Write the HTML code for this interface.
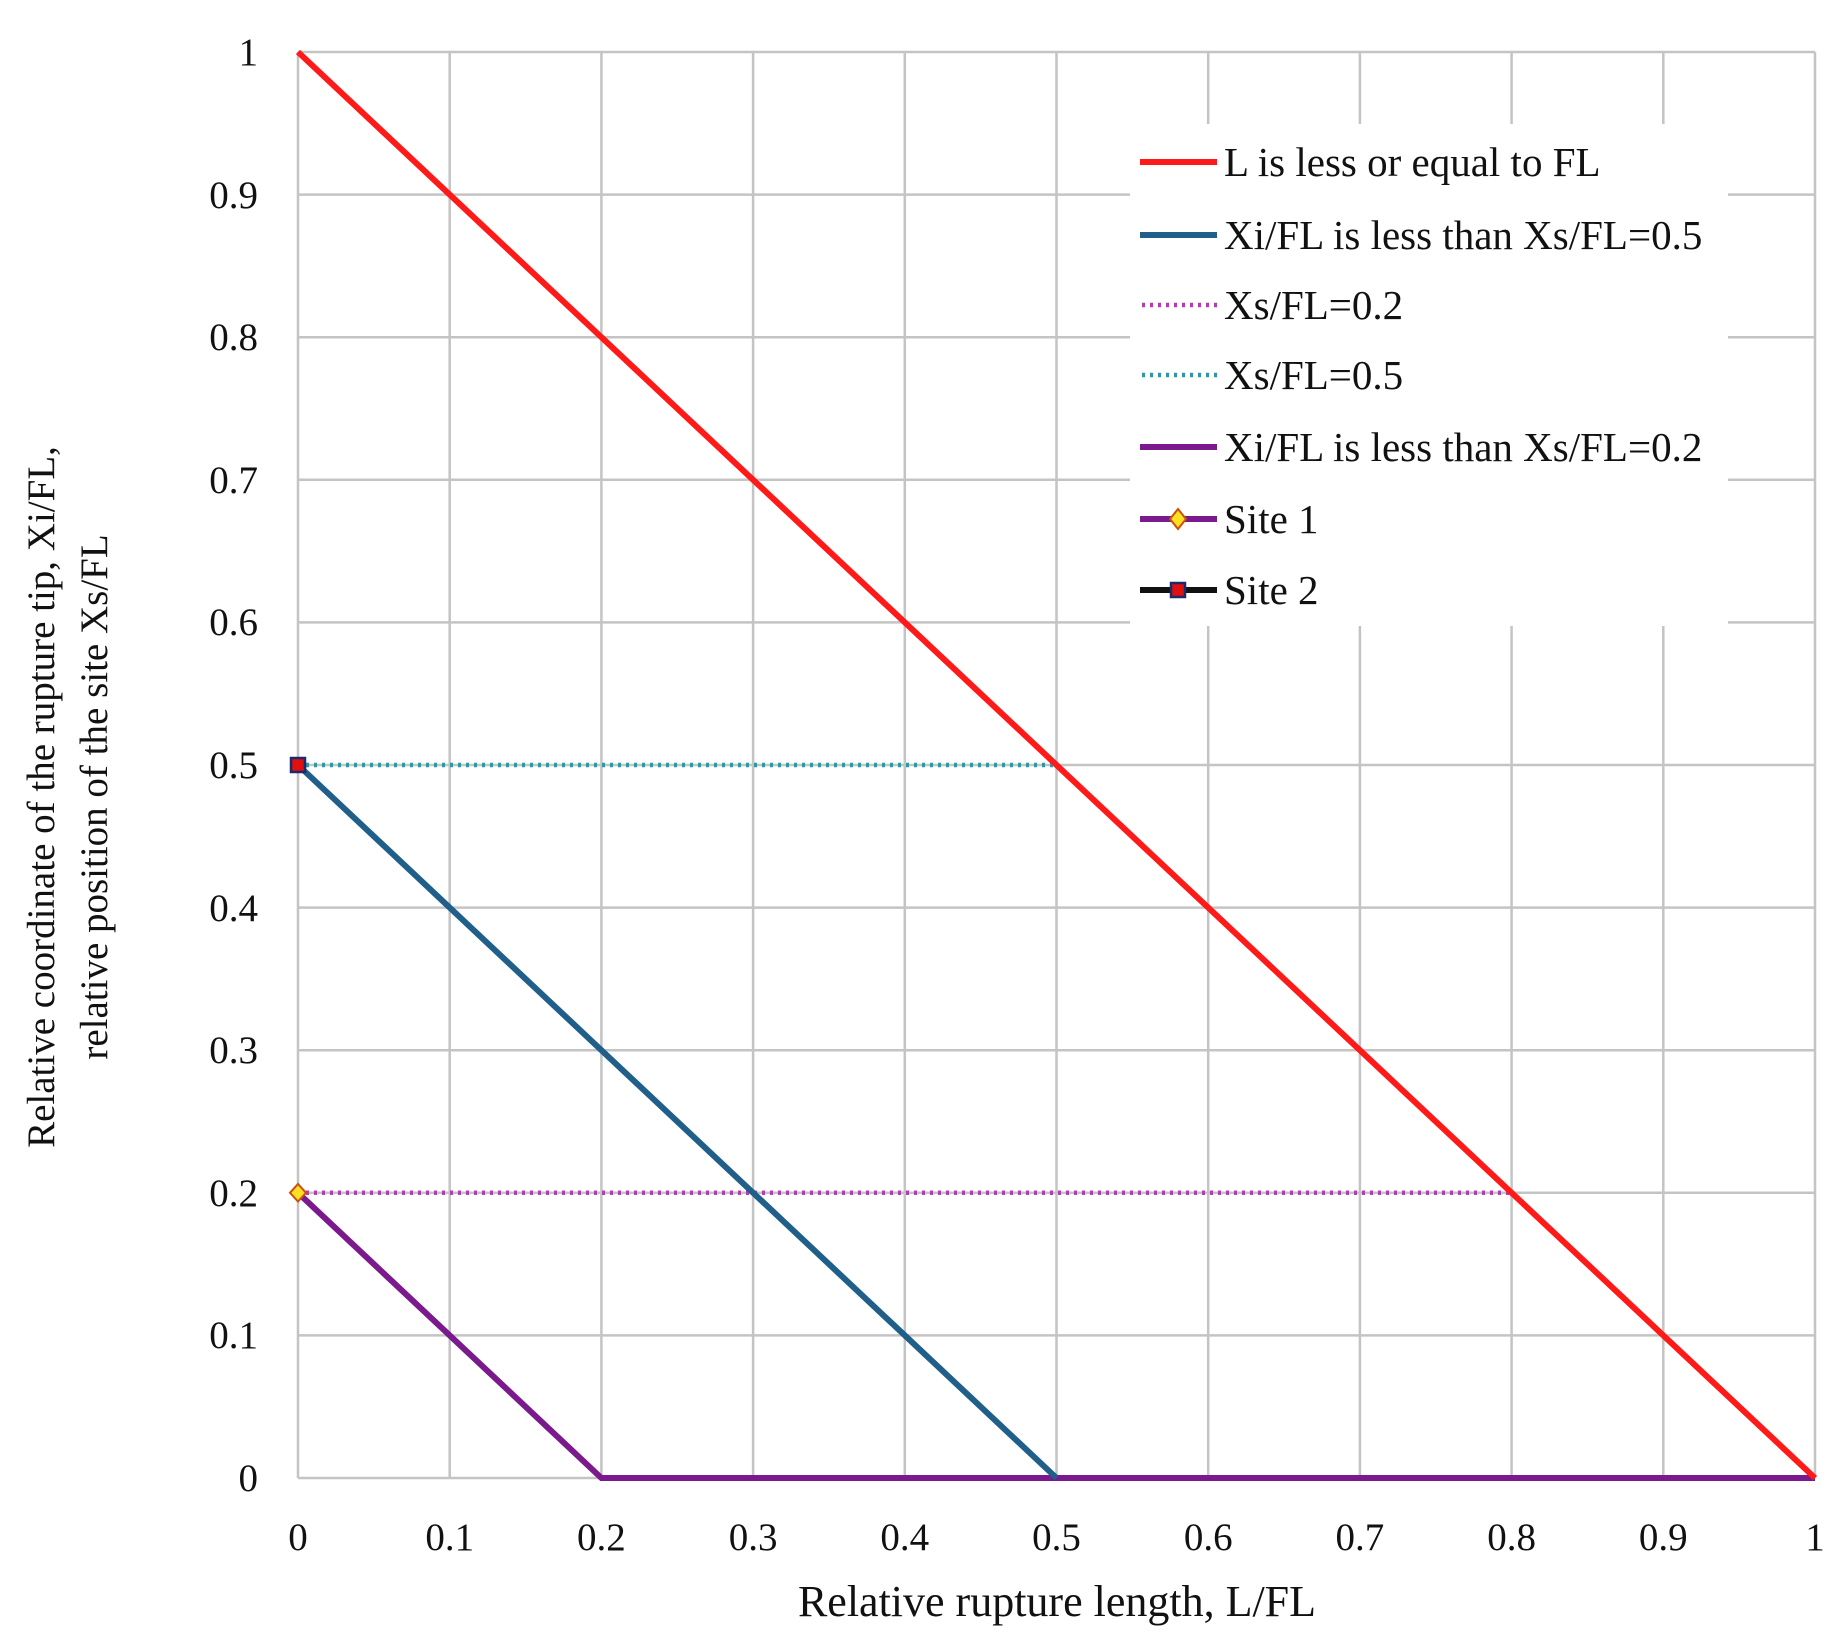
<!DOCTYPE html>
<html><head><meta charset="utf-8"><style>
html,body{margin:0;padding:0;background:#fff;}
svg{display:block;}
text{font-family:"Liberation Serif",serif;fill:#111;}
</style></head><body>
<svg width="1844" height="1638" viewBox="0 0 1844 1638" xmlns="http://www.w3.org/2000/svg">
<rect width="1844" height="1638" fill="#fff"/>
<g stroke="#c4c4c4" stroke-width="2.5">
<line x1="298" y1="52" x2="298" y2="1478"/><line x1="449.7" y1="52" x2="449.7" y2="1478"/><line x1="601.4" y1="52" x2="601.4" y2="1478"/><line x1="753.1" y1="52" x2="753.1" y2="1478"/><line x1="904.8" y1="52" x2="904.8" y2="1478"/><line x1="1056.5" y1="52" x2="1056.5" y2="1478"/><line x1="1208.2" y1="52" x2="1208.2" y2="1478"/><line x1="1359.9" y1="52" x2="1359.9" y2="1478"/><line x1="1511.6" y1="52" x2="1511.6" y2="1478"/><line x1="1663.3" y1="52" x2="1663.3" y2="1478"/><line x1="1815" y1="52" x2="1815" y2="1478"/>
<line x1="298" y1="52" x2="1815" y2="52"/><line x1="298" y1="194.6" x2="1815" y2="194.6"/><line x1="298" y1="337.2" x2="1815" y2="337.2"/><line x1="298" y1="479.8" x2="1815" y2="479.8"/><line x1="298" y1="622.4" x2="1815" y2="622.4"/><line x1="298" y1="765" x2="1815" y2="765"/><line x1="298" y1="907.6" x2="1815" y2="907.6"/><line x1="298" y1="1050.2" x2="1815" y2="1050.2"/><line x1="298" y1="1192.8" x2="1815" y2="1192.8"/><line x1="298" y1="1335.4" x2="1815" y2="1335.4"/><line x1="298" y1="1478" x2="1815" y2="1478"/>
</g>
<g font-size="39" text-anchor="end">
<text x="258" y="65">1</text><text x="258" y="208">0.9</text><text x="258" y="350">0.8</text><text x="258" y="493">0.7</text><text x="258" y="635">0.6</text><text x="258" y="778">0.5</text><text x="258" y="921">0.4</text><text x="258" y="1063">0.3</text><text x="258" y="1206">0.2</text><text x="258" y="1348">0.1</text><text x="258" y="1491">0</text>
</g>
<g font-size="39" text-anchor="middle">
<text x="298" y="1550">0</text><text x="449.7" y="1550">0.1</text><text x="601.4" y="1550">0.2</text><text x="753.1" y="1550">0.3</text><text x="904.8" y="1550">0.4</text><text x="1056.5" y="1550">0.5</text><text x="1208.2" y="1550">0.6</text><text x="1359.9" y="1550">0.7</text><text x="1511.6" y="1550">0.8</text><text x="1663.3" y="1550">0.9</text><text x="1815" y="1550">1</text>
</g>
<text x="1057" y="1616" font-size="44" text-anchor="middle">Relative rupture length, L/FL</text>
<g transform="translate(54,797) rotate(-90)" font-size="39" text-anchor="middle">
<text x="0" y="0">Relative coordinate of the rupture tip, Xi/FL,</text>
<text x="0" y="53">relative position of the site Xs/FL</text>
</g>
<line x1="298" y1="765" x2="1056.5" y2="765" stroke="#2a9aa8" stroke-width="4.5" stroke-dasharray="3,5"/>
<line x1="298" y1="1192.8" x2="1511.6" y2="1192.8" stroke="#b43cb4" stroke-width="4.5" stroke-dasharray="3,5"/>
<polyline points="298,1192.8 601.4,1478 1815,1478" fill="none" stroke="#7a1a8c" stroke-width="6"/>
<polyline points="298,765 1056.5,1478" fill="none" stroke="#1f5f8a" stroke-width="6"/>
<line x1="298" y1="52" x2="1815" y2="1478" stroke="#ff1a1a" stroke-width="6"/>
<rect x="291" y="758" width="14" height="14" fill="#e01010" stroke="#1a2a6a" stroke-width="2.5"/>
<polygon points="298,1184 306,1192.8 298,1201.5 290,1192.8" fill="#ffe020" stroke="#c85010" stroke-width="2"/>
<rect x="1130" y="124" width="598" height="502" fill="#fff"/>
<g stroke-width="6">
<line x1="1140" y1="162" x2="1217" y2="162" stroke="#ff1a1a"/>
<line x1="1140" y1="235" x2="1217" y2="235" stroke="#1f5f8a"/>
<line x1="1142" y1="305" x2="1217" y2="305" stroke="#b43cb4" stroke-dasharray="3,5" stroke-width="4.5"/>
<line x1="1142" y1="375" x2="1217" y2="375" stroke="#2a9aa8" stroke-dasharray="3,5" stroke-width="4.5"/>
<line x1="1140" y1="447" x2="1217" y2="447" stroke="#7a1a8c"/>
<line x1="1140" y1="519" x2="1217" y2="519" stroke="#7a1a8c"/>
<line x1="1140" y1="590" x2="1217" y2="590" stroke="#111"/>
</g>
<polygon points="1178,509 1186,519 1178,529 1170,519" fill="#ffe020" stroke="#c85010" stroke-width="2"/>
<rect x="1171" y="583" width="14" height="14" fill="#e01010" stroke="#1a2a6a" stroke-width="2.5"/>
<g font-size="41">
<text x="1224" y="176">L is less or equal to FL</text>
<text x="1224" y="249">Xi/FL is less than Xs/FL=0.5</text>
<text x="1224" y="319">Xs/FL=0.2</text>
<text x="1224" y="389">Xs/FL=0.5</text>
<text x="1224" y="461">Xi/FL is less than Xs/FL=0.2</text>
<text x="1224" y="533">Site 1</text>
<text x="1224" y="604">Site 2</text>
</g>
</svg>
</body></html>
